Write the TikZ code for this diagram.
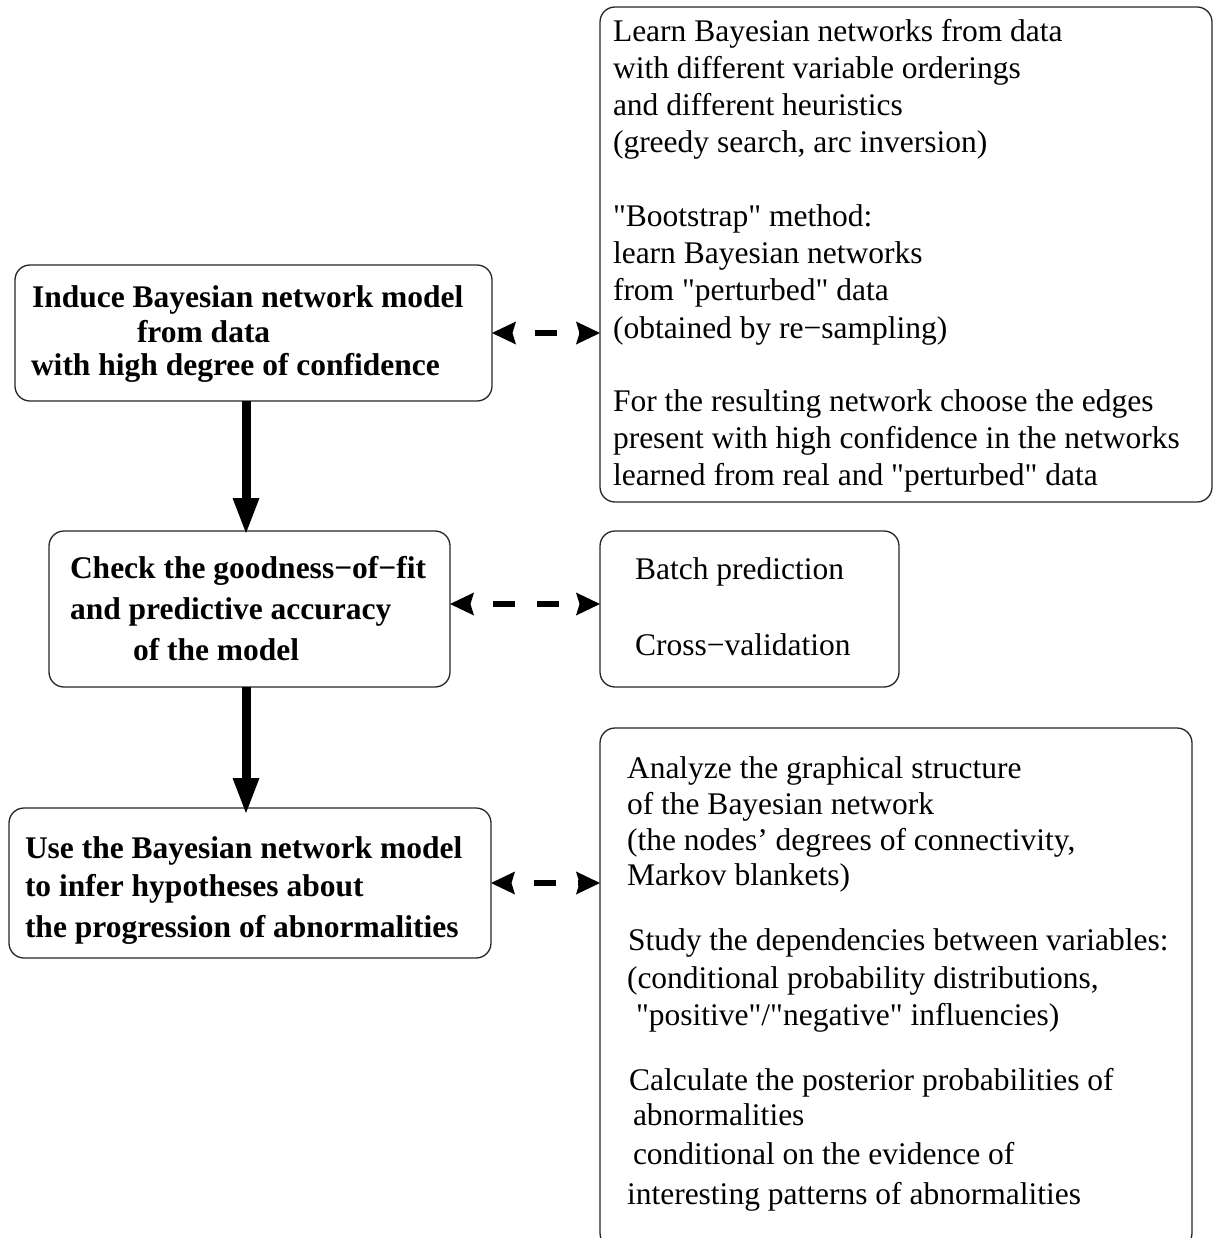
\documentclass[tikz,border=0pt]{standalone}
\usepackage{fontspec}
\setmainfont{Liberation Serif}
\usetikzlibrary{arrows.meta}
\begin{document}
\begin{tikzpicture}[x=1pt,y=-1pt,
  every node/.style={inner sep=0pt,outer sep=0pt},
  panel/.style={draw=black!85,line width=1.3pt,rounded corners=15pt,anchor=north west},
  txt/.style={anchor=base west,font=\fontsize{31.5}{37}\selectfont},
  btxt/.style={anchor=base west,font=\fontsize{31.5}{37}\selectfont\bfseries},
  flow/.style={line width=9pt,-{Triangle[length=35pt,width=27pt,line width=0pt]}},
  link/.style={line width=6.5pt,{Stealth[length=24pt,width=23pt,inset=3.5pt,line width=0pt]}-{Stealth[length=24pt,width=23pt,inset=3.5pt,line width=0pt]},
    dash pattern=on 22pt off 22pt,dash phase=22pt}
]
\useasboundingbox (0,0) rectangle (1221,1238);
\clip (0,0) rectangle (1221,1238);

% boxes
\node[panel,minimum width=477pt,minimum height=136pt] (induce) at (15,265) {};
\node[panel,minimum width=401pt,minimum height=156pt] (check) at (49,531) {};
\node[panel,minimum width=482pt,minimum height=150pt] (use) at (9,808) {};
\node[panel,minimum width=612pt,minimum height=495pt] (learn) at (600,7) {};
\node[panel,minimum width=299pt,minimum height=156pt] (valid) at (600,531) {};
\node[panel,minimum width=592pt,minimum height=520pt] (analyze) at (600,728) {};

% left column
\node[btxt] (i1) at (32,308) {Induce Bayesian network model};
\node[btxt] (i2) at (137,342) {from data};
\node[btxt] (i3) at (31,375) {with high degree of confidence};

\node[btxt] (c1) at (70,578) {Check the goodness−of−fit};
\node[btxt] (c2) at (70,619) {and predictive accuracy};
\node[btxt] (c3) at (133,660) {of the model};

\node[btxt] (u1) at (25,858) {Use the Bayesian network model};
\node[btxt] (u2) at (25,896) {to infer hypotheses about};
\node[btxt] (u3) at (25,937) {the progression of abnormalities};

% right column
\node[txt] (l1) at (613,42) {Learn Bayesian networks from data};
\node[txt] (l2) at (613,79) {with different variable orderings};
\node[txt] (l3) at (613,116) {and different heuristics};
\node[txt] (l4) at (613,153) {(greedy search, arc inversion)};
\node[txt] (l5) at (613,227) {\textquotedbl Bootstrap\textquotedbl{} method:};
\node[txt] (l6) at (613,264) {learn Bayesian networks};
\node[txt] (l7) at (613,301) {from \textquotedbl perturbed\textquotedbl{} data};
\node[txt] (l8) at (613,338) {(obtained by re−sampling)};
\node[txt] (l9) at (613,411) {For the resulting network choose the edges};
\node[txt] (l10) at (613,448) {present with high confidence in the networks};
\node[txt] (l11) at (613,485) {learned from real and \textquotedbl perturbed\textquotedbl{} data};

\node[txt] (v1) at (635,579) {Batch prediction};
\node[txt] (v2) at (635,655) {Cross−validation};

\node[txt] (a1) at (627,778) {Analyze the graphical structure};
\node[txt] (a2) at (627,814) {of the Bayesian network};
\node[txt] (a3) at (627,850) {(the nodes’ degrees of connectivity,};
\node[txt] (a4) at (627,885) {Markov blankets)};
\node[txt] (a5) at (628,950) {Study the dependencies between variables:};
\node[txt] (a6) at (627,988) {(conditional probability distributions,};
\node[txt] (a7) at (636,1025) {\textquotedbl positive\textquotedbl/\textquotedbl negative\textquotedbl{} influencies)};
\node[txt] (a8) at (629,1090) {Calculate the posterior probabilities of};
\node[txt] (a9) at (633,1125) {abnormalities};
\node[txt] (a10) at (633,1164) {conditional on the evidence of};
\node[txt] (a11) at (627,1204) {interesting patterns of abnormalities};

% connectors
\coordinate (axis) at (246,0);
\draw[flow] (induce.south -| axis) -- ([yshift=-2pt]check.north -| axis);
\draw[flow] (check.south -| axis) -- ([yshift=-5pt]use.north -| axis);

\coordinate (cmid) at ([yshift=5pt]check.east);
\draw[link] (induce.east) -- (learn.west |- induce.east);
\draw[link] (cmid) -- (valid.west |- cmid);
\draw[link] (use.east) -- (analyze.west |- use.east);
\end{tikzpicture}
\end{document}
